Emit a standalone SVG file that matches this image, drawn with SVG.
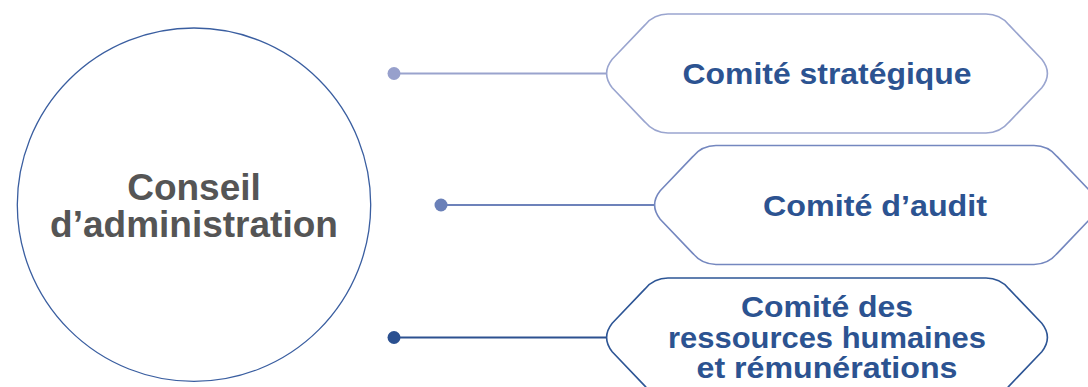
<svg xmlns="http://www.w3.org/2000/svg" width="1088" height="387" viewBox="0 0 1088 387">
<style>
.bg{fill:#ffffff}
.hex{fill:#ffffff;stroke-width:1.6}
.lbl{font-family:"Liberation Sans",Arial,Helvetica,sans-serif;font-weight:bold;font-size:30px;fill:#2c5391;text-anchor:middle}
.main{font-family:"Liberation Sans",Arial,Helvetica,sans-serif;font-weight:bold;font-size:37px;fill:#555555;text-anchor:middle}
.conn{stroke-width:1.8;fill:none}
</style>
<defs>
<path id="hex" d="M-214.8,-14.2 L-182,-48.6 Q-173,-59.5 -159,-59.5 L159,-59.5 Q173,-59.5 182,-48.6 L214.8,-14.2 Q226,0 214.8,14.2 L182,48.6 Q173,59.5 159,59.5 L-159,59.5 Q-173,59.5 -182,48.6 L-214.8,14.2 Q-226,0 -214.8,-14.2 Z"/>
</defs>
<rect class="bg" x="0" y="0" width="1088" height="387"/>
<g id="connectors">
<line class="conn" x1="394" y1="73.5" x2="608" y2="73.5" stroke="#9aa3cd"/>
<circle cx="394" cy="73.5" r="6.5" fill="#97a0cc"/>
<line class="conn" x1="441" y1="205" x2="656" y2="205" stroke="#6d82ba"/>
<circle cx="441" cy="205" r="6.5" fill="#6a80b8"/>
<line class="conn" x1="394" y1="337.5" x2="608" y2="337.5" stroke="#2c5190"/>
<circle cx="394" cy="337.5" r="6.5" fill="#2b5090"/>
</g>
<g id="conseil">
<circle cx="194" cy="204.7" r="176.7" fill="#ffffff" stroke="#3a5ea0" stroke-width="1.3"/>
<text class="main" x="194" y="200">Conseil</text>
<text class="main" x="194" y="237">d’administration</text>
</g>
<g id="comite-strategique">
<use href="#hex" class="hex" x="827" y="73.5" stroke="#9aa5cf"/>
<text class="lbl" x="827" y="84" textLength="289" lengthAdjust="spacingAndGlyphs">Comité stratégique</text>
</g>
<g id="comite-audit">
<use href="#hex" class="hex" x="875" y="205" stroke="#7487bf"/>
<text class="lbl" x="875" y="216" textLength="224" lengthAdjust="spacingAndGlyphs">Comité d’audit</text>
</g>
<g id="comite-rh">
<use href="#hex" class="hex" x="827" y="337.5" stroke="#2d5595"/>
<text class="lbl" x="827" y="317" textLength="172" lengthAdjust="spacingAndGlyphs">Comité des</text>
<text class="lbl" x="827" y="348" textLength="318" lengthAdjust="spacingAndGlyphs">ressources humaines</text>
<text class="lbl" x="827" y="378" textLength="261" lengthAdjust="spacingAndGlyphs">et rémunérations</text>
</g>
</svg>
